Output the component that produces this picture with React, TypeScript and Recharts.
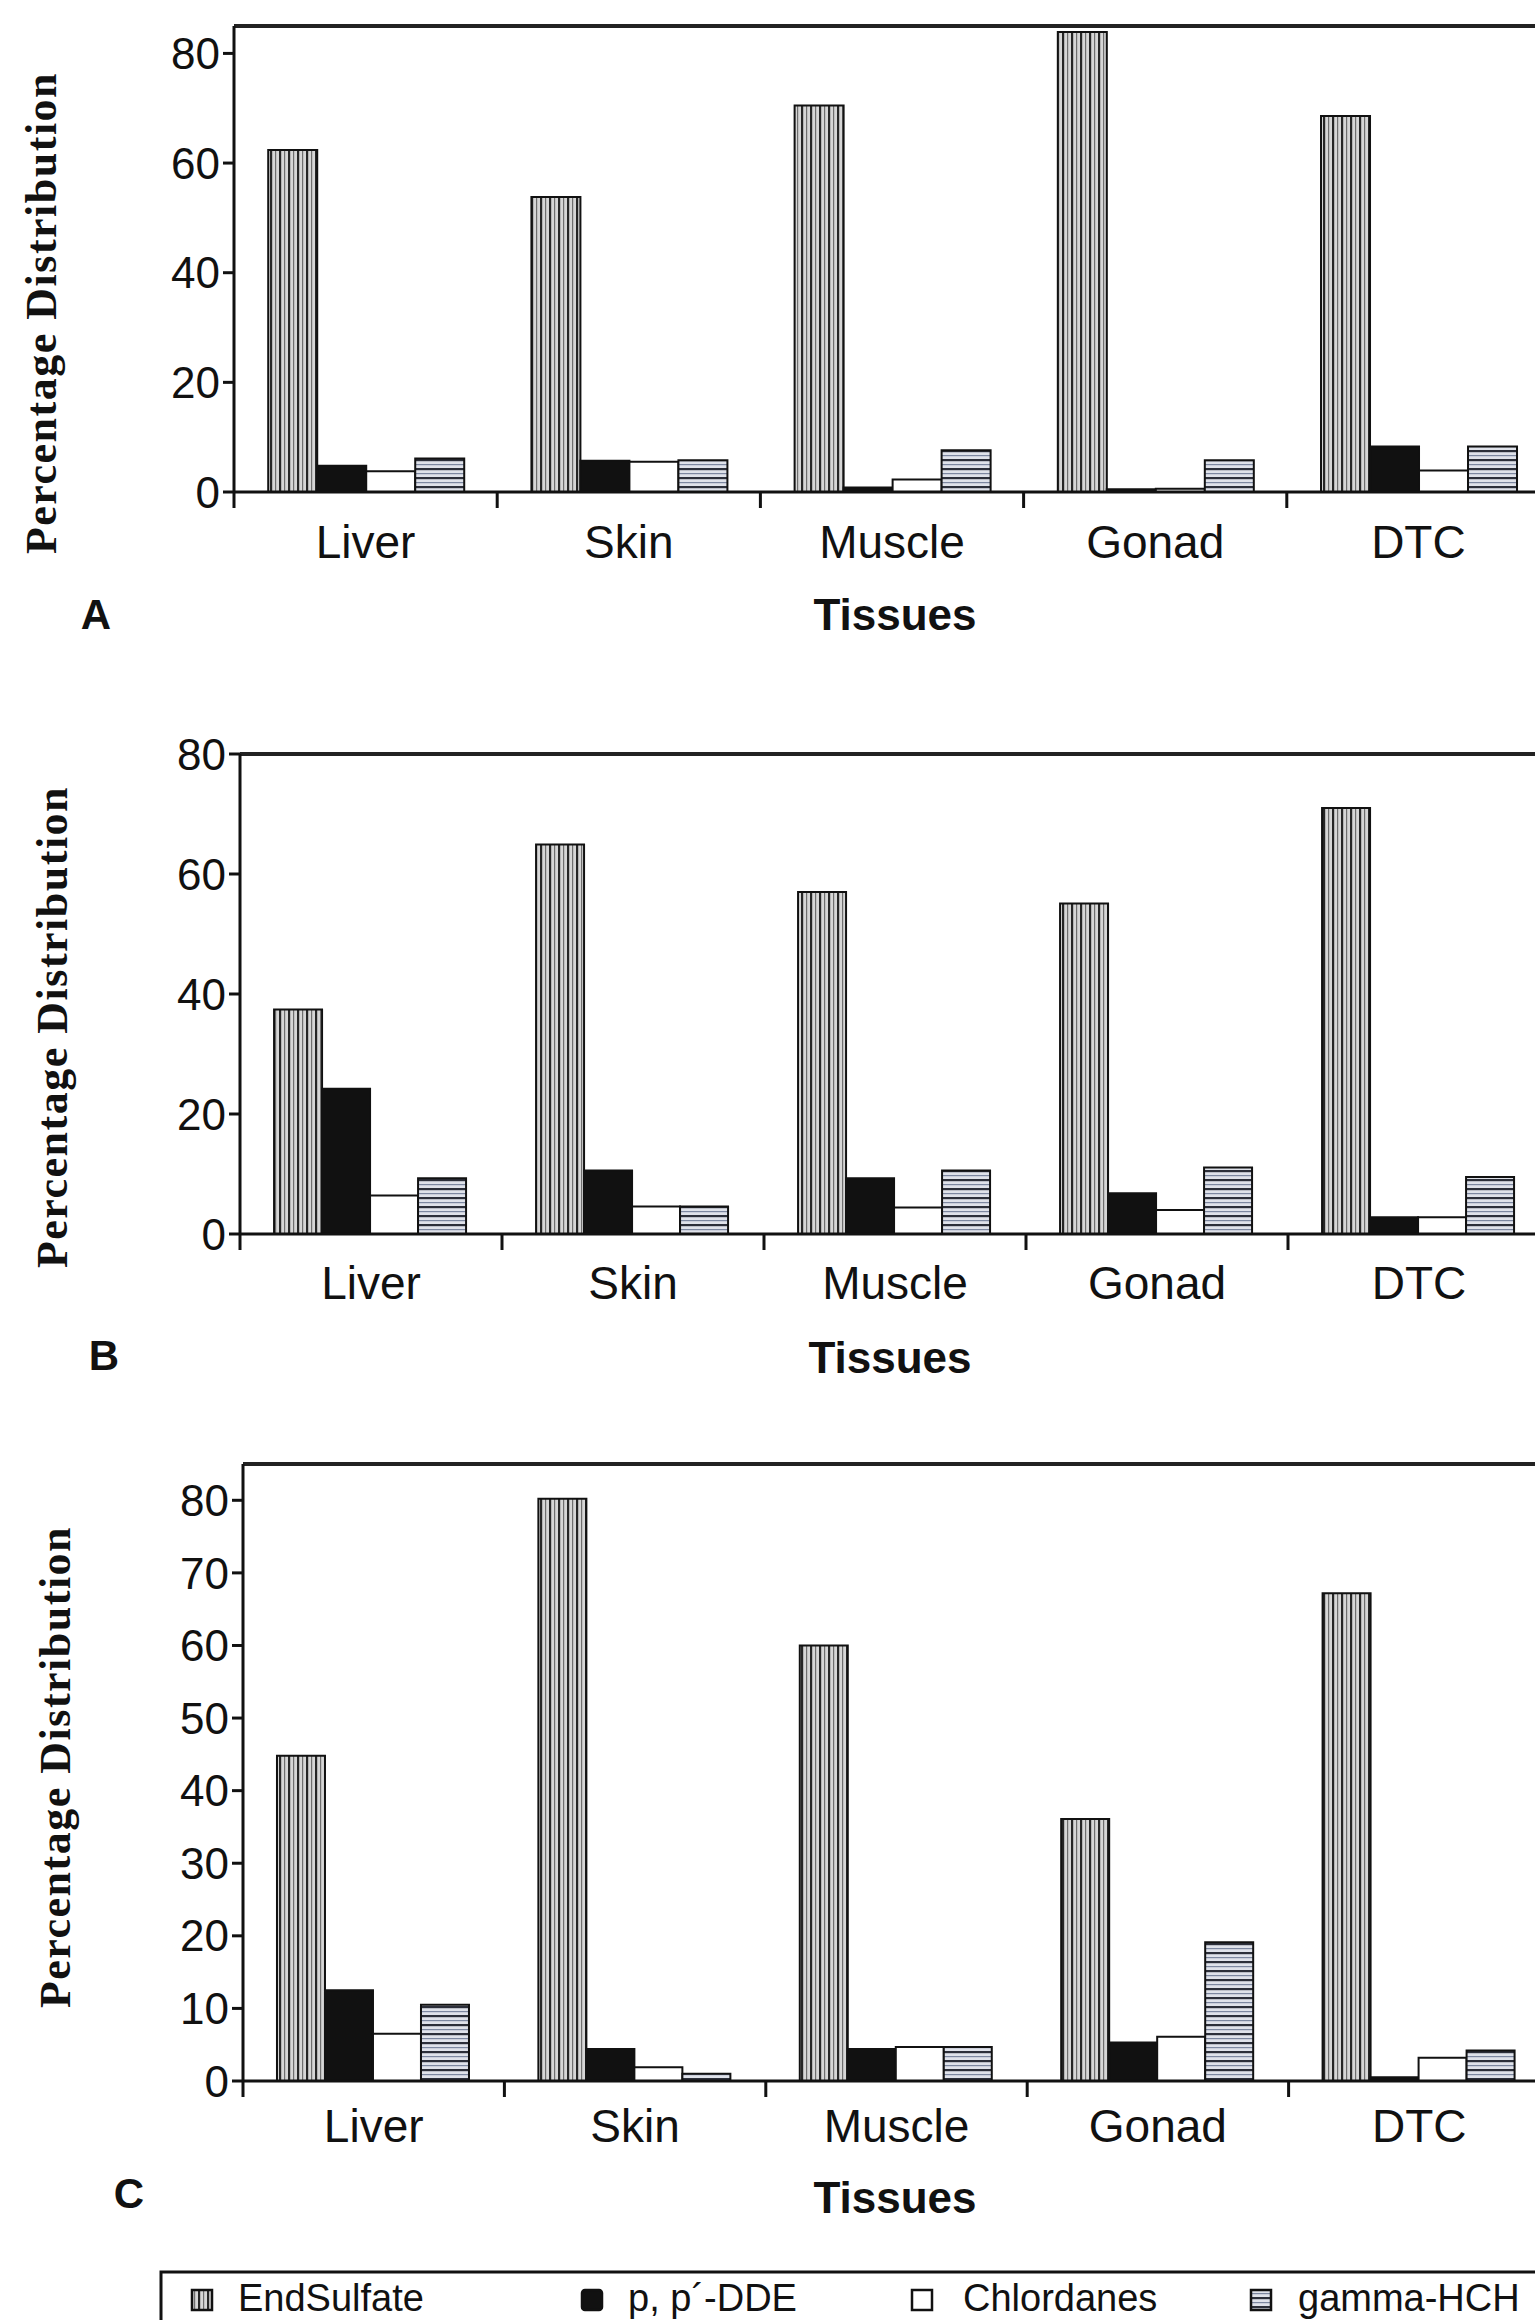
import { BarChart, Bar, XAxis, YAxis, ReferenceLine } from "recharts";

// categories and series
const tissues = ["Liver", "Skin", "Muscle", "Gonad", "DTC"];
const seriesNames = ["EndSulfate", "p, p´-DDE", "Chlordanes", "gamma-HCH"];

// panel A
const endSulfateA = [62.4, 53.8, 70.5, 83.9, 68.6];
const ddeA = [4.8, 5.7, 0.8, 0.5, 8.3];
const chlordanesA = [3.8, 5.5, 2.3, 0.6, 3.9];
const gammaA = [6.1, 5.8, 7.6, 5.8, 8.3];
const ticksA = [0, 20, 40, 60, 80];

// panel B
const endSulfateB = [37.4, 64.9, 57.0, 55.1, 71.0];
const ddeB = [24.2, 10.6, 9.3, 6.8, 2.8];
const chlordanesB = [6.4, 4.6, 4.4, 4.0, 2.8];
const gammaB = [9.3, 4.6, 10.6, 11.1, 9.5];
const ticksB = [0, 20, 40, 60, 80];

// panel C
const endSulfateC = [44.8, 80.2, 60.0, 36.1, 67.2];
const ddeC = [12.5, 4.4, 4.4, 5.3, 0.5];
const chlordanesC = [6.5, 1.9, 4.7, 6.1, 3.2];
const gammaC = [10.5, 1.0, 4.7, 19.1, 4.2];
const ticksC = [0, 10, 20, 30, 40, 50, 60, 70, 80];

const SANS = "'Liberation Sans', Arial, Helvetica, sans-serif";
const SERIF = "'Liberation Serif', 'Times New Roman', serif";
const INK = "#111";
const CHART_W = 1560;
const MARGIN_R = 10;

const build = (a: number[], b: number[], c: number[], d: number[]) =>
  tissues.map((t, i) => ({ tissue: t, s0: a[i], s1: b[i], s2: c[i], s3: d[i] }));

function Patterns({ id }: { id: string }) {
  return (
    <defs>
      <pattern id={`${id}-v`} width="9" height="9" patternUnits="userSpaceOnUse">
        <rect width="9" height="9" fill="#d6d6d6" />
        <rect x="0" width="2.2" height="9" fill="#262626" />
        <rect x="5" width="1.2" height="9" fill="#6e6e6e" />
      </pattern>
      <pattern id={`${id}-h`} width="9" height="9" patternUnits="userSpaceOnUse">
        <rect width="9" height="9" fill="#dfe2ea" />
        <rect y="0" width="9" height="2.2" fill="#2c2f3a" />
        <rect y="5" width="9" height="1.2" fill="#7c87a0" />
      </pattern>
    </defs>
  );
}

function TissueTick(props: any) {
  const { x, y, payload, index, width, visibleTicksCount, baseline, plotW } = props;
  const n = visibleTicksCount || tissues.length;
  const band = (width || plotW) / n;
  return (
    <g>
      <line x1={x - band / 2} y1={y} x2={x - band / 2} y2={y + 16} stroke={INK} strokeWidth={3} />
      {index === n - 1 && (
        <line x1={x + band / 2} y1={y} x2={x + band / 2} y2={y + 16} stroke={INK} strokeWidth={3} />
      )}
      <text x={x} y={y + baseline} textAnchor="middle" fontSize={46} fontFamily={SANS} fill={INK}>
        {payload.value}
      </text>
    </g>
  );
}

interface PanelProps {
  id: string;
  top: number;
  height: number;
  marginTop: number;
  xAxisH: number;
  yAxisW: number;
  yMax: number;
  ticks: number[];
  baseline: number;
  data: Array<Record<string, number | string>>;
}

function Panel({ id, top, height, marginTop, xAxisH, yAxisW, yMax, ticks, baseline, data }: PanelProps) {
  const plotW = CHART_W - yAxisW - MARGIN_R;
  const fills = [`url(#${id}-v)`, INK, "#ffffff", `url(#${id}-h)`];
  return (
    <div style={{ position: "absolute", left: 0, top }}>
      <BarChart
        width={CHART_W}
        height={height}
        data={data}
        margin={{ top: marginTop, right: MARGIN_R, left: 0, bottom: 0 }}
        barCategoryGap="13%"
        barGap={0}
      >
        <Patterns id={id} />
        <XAxis
          dataKey="tissue"
          height={xAxisH}
          interval={0}
          tickSize={0}
          tickMargin={0}
          tickLine={false}
          axisLine={{ stroke: INK, strokeWidth: 3 }}
          tick={<TissueTick baseline={baseline} plotW={plotW} />}
        />
        <YAxis
          type="number"
          width={yAxisW}
          domain={[0, yMax]}
          ticks={ticks}
          interval={0}
          tickSize={11}
          tickMargin={3}
          axisLine={{ stroke: INK, strokeWidth: 3 }}
          tickLine={{ stroke: INK, strokeWidth: 3 }}
          tick={{ fontSize: 44, fill: INK, fontFamily: SANS }}
        />
        <ReferenceLine y={yMax} stroke="#222" strokeWidth={4} />
        {seriesNames.map((name, i) => (
          <Bar
            key={name}
            dataKey={`s${i}`}
            name={name}
            fill={fills[i]}
            stroke={INK}
            strokeWidth={2}
            isAnimationActive={false}
          />
        ))}
      </BarChart>
    </div>
  );
}

const annotations = [
  { letter: "A", lx: 96, ly: 614, tx: 895, ty: 614, yx: 41, yy: 313 },
  { letter: "B", lx: 104, ly: 1355, tx: 890, ty: 1357, yx: 52, yy: 1027 },
  { letter: "C", lx: 129, ly: 2193, tx: 895, ty: 2197, yx: 55, yy: 1767 },
];

const legendIconX = [192, 582, 912, 1251];
const legendTextX = [238, 628, 963, 1298];

function Legend() {
  const fills = ["url(#lg-v)", INK, "#ffffff", "url(#lg-h)"];
  return (
    <svg
      width={1535}
      height={50}
      style={{ position: "absolute", left: 0, top: 2270, overflow: "hidden" }}
    >
      <Patterns id="lg" />
      <rect x={161} y={2} width={1420} height={90} fill="none" stroke={INK} strokeWidth={3} />
      {seriesNames.map((name, i) => (
        <g key={name}>
          <rect
            x={legendIconX[i]}
            y={20}
            width={20}
            height={20}
            rx={i === 1 ? 3 : 0}
            fill={fills[i]}
            stroke={INK}
            strokeWidth={2.5}
          />
          <text x={legendTextX[i]} y={41} fontSize={38} fontFamily={SANS} fill={INK}>
            {name}
          </text>
        </g>
      ))}
    </svg>
  );
}

export default function App() {
  return (
    <div
      style={{
        position: "relative",
        width: 1535,
        height: 2320,
        overflow: "hidden",
        background: "#ffffff",
      }}
    >
      <style>{"body{margin:0}"}</style>
      <Panel
        id="pa"
        top={0}
        height={600}
        marginTop={26}
        xAxisH={108}
        yAxisW={234}
        yMax={85}
        ticks={ticksA}
        baseline={66}
        data={build(endSulfateA, ddeA, chlordanesA, gammaA)}
      />
      <Panel
        id="pb"
        top={720}
        height={600}
        marginTop={34}
        xAxisH={86}
        yAxisW={240}
        yMax={80}
        ticks={ticksB}
        baseline={65}
        data={build(endSulfateB, ddeB, chlordanesB, gammaB)}
      />
      <Panel
        id="pc"
        top={1430}
        height={760}
        marginTop={34}
        xAxisH={109}
        yAxisW={243}
        yMax={85}
        ticks={ticksC}
        baseline={61}
        data={build(endSulfateC, ddeC, chlordanesC, gammaC)}
      />
      <svg
        width={1535}
        height={2320}
        style={{ position: "absolute", left: 0, top: 0, pointerEvents: "none" }}
      >
        {annotations.map((a) => (
          <g key={a.letter}>
            <text
              x={a.lx}
              y={a.ly}
              textAnchor="middle"
              dominantBaseline="central"
              fontSize={42}
              fontWeight="bold"
              fontFamily={SANS}
              fill={INK}
            >
              {a.letter}
            </text>
            <text
              x={a.tx}
              y={a.ty}
              textAnchor="middle"
              dominantBaseline="central"
              fontSize={44}
              fontWeight="bold"
              fontFamily={SANS}
              fill={INK}
            >
              Tissues
            </text>
            <text
              x={a.yx}
              y={a.yy}
              transform={`rotate(-90 ${a.yx} ${a.yy})`}
              textAnchor="middle"
              dominantBaseline="central"
              fontSize={44}
              fontWeight="bold"
              letterSpacing={1.5}
              fontFamily={SERIF}
              fill={INK}
            >
              Percentage Distribution
            </text>
          </g>
        ))}
      </svg>
      <Legend />
    </div>
  );
}
